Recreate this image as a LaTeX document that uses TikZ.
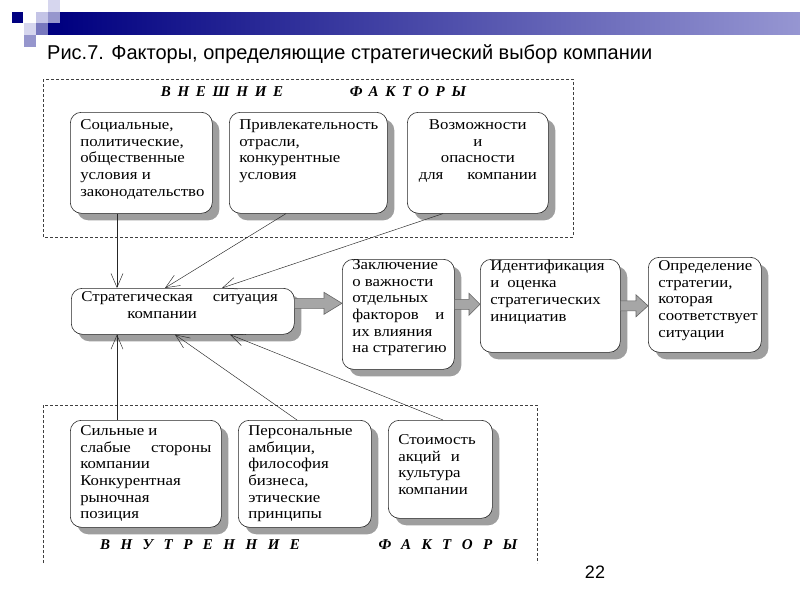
\documentclass[tikz,border=0pt]{standalone}
\usepackage{fontspec}
\setmainfont{Liberation Serif}
\newfontfamily\sansf{Liberation Sans}
\newfontfamily\bxf[FakeStretch=1.12]{Liberation Serif}
\newfontfamily\lblup[LetterSpace=45]{Liberation Serif}
\newfontfamily\lbllo[LetterSpace=70]{Liberation Serif}
\usetikzlibrary{shadows,arrows.meta,calc}
\definecolor{navy}{RGB}{0,0,128}
\definecolor{lav1}{RGB}{214,214,238}
\definecolor{lav2}{RGB}{196,196,230}
\definecolor{lav3}{RGB}{150,150,205}
\definecolor{lav4}{RGB}{120,120,190}
\definecolor{barend}{RGB}{150,150,210}
\newcommand\btx[4]{\parbox[c][#2pt][t]{#1pt}{\vspace*{#3pt}\begin{tabular}[t]{@{}l@{}}#4\end{tabular}}}
\newcommand\btc[4]{\parbox[c][#2pt][t]{#1pt}{\vspace*{#3pt}\centering\begin{tabular}[t]{@{}c@{}}#4\end{tabular}}}
\newcommand\blockarrow[3]{%
  \path[blk] let \p1=#1, \p2=#2 in
    (\x1,\y1+5pt) -- (\x2-#3,\y1+5pt) -- (\x2-#3,\y1+11pt) -- (\x2,\y1)
    -- (\x2-#3,\y1-11pt) -- (\x2-#3,\y1-5pt) -- (\x1,\y1-5pt) -- cycle;}
\begin{document}
\begin{tikzpicture}[x=1pt,y=-1pt,
  fbox/.style={draw=black!85, line width=0.6pt, rounded corners=11pt, fill=white,
    drop shadow={shadow xshift=7pt, shadow yshift=-7pt, fill=black!38, opacity=1},
    anchor=north west, inner xsep=10pt, inner ysep=0pt,
    font=\bxf\fontsize{15}{16.7}\selectfont},
  conn/.style={draw=black!85, line width=0.45pt, -{Straight Barb[length=14pt,width=12pt]}},
  blk/.style={fill=black!35, draw=black!60, line width=0.6pt},
  dashbox/.style={draw=black!75, line width=0.6pt, dash pattern=on 3pt off 2pt},
  lblu/.style={font=\lblup\bfseries\itshape\fontsize{15}{15}\selectfont, inner sep=0pt},
  lbll/.style={font=\lbllo\bfseries\itshape\fontsize{15}{15}\selectfont, inner sep=0pt}]
\useasboundingbox (0,0) rectangle (800,600);
\fill[white] (0,0) rectangle (800,600);
% decoration
\shade[left color=navy, right color=barend] (60,12) rectangle (800,34);
\fill[lav1] (48,0) rectangle (60,12);
\fill[navy] (12,12) rectangle (23,23);
\fill[lav2] (36,12) rectangle (48,23);
\fill[lav3] (48,12) rectangle (60,23);
\fill[lav1] (24,23) rectangle (36,35);
\fill[lav4] (36,23) rectangle (48,35);
\fill[navy] (48,23) rectangle (60,35);
\fill[lav3] (24,35) rectangle (36,47);
% title
\node[anchor=base west, inner sep=0pt, font=\sansf\fontsize{20}{20}\selectfont] (title) at (47,59)
  {Рис.7. Факторы, определяющие стратегический выбор компании};
% dashed frames
\draw[dashbox] (43,79) rectangle (573,237);
\draw[dashbox] (43,563) -- (43,405) -- (537,405) -- (537,563);
% labels
\node[lblu] (ext1) at (222,92) {ВНЕШНИЕ};
\node[lblu] (ext2) at (408,92) {ФАКТОРЫ};
\node[lbll] (int1) at (200,545) {ВНУТРЕННИЕ};
\node[lbll] (int2) at (448,545) {ФАКТОРЫ};
% external boxes
\node[fbox] (b1) at (70,112) {\btx{122}{101}{5.5}{Социальные,\\политические,\\общественные\\условия и\\законодательство}};
\node[fbox] (b2) at (229,112) {\btx{138}{101}{5.5}{Привлекательность\\отрасли,\\конкурентные\\условия}};
\node[fbox] (b3) at (407,112) {\btc{121}{101}{5.5}{Возможности\\и\\опасности\\для\hspace{24pt}компании}};
% strategic situation
\node[fbox] (s) at (71,288) {\btx{203}{46}{1.5}{Стратегическая\hspace{20pt}ситуация\\\hspace{46pt}компании}};
% chain
\node[fbox] (c1) at (342,259) {\btx{92}{110}{-1.5}{Заключение\\о важности\\отдельных\\\hbox to 92pt{факторов\hfill и}\\их влияния\\на стратегию}};
\node[fbox] (c2) at (480,259) {\btx{120}{93}{0}{Идентификация\\и\hspace{8pt}оценка\\стратегических\\инициатив}};
\node[fbox] (c3) at (648,257) {\btx{93}{95}{1.5}{Определение\\стратегии,\\которая\\соответствует\\ситуации}};
% internal boxes
\node[fbox] (b4) at (70,420) {\btx{131}{107}{3.5}{Сильные и\\\hbox to 131pt{слабые\hfill стороны}\\компании\\Конкурентная\\рыночная\\позиция}};
\node[fbox] (b5) at (238,420) {\btx{113}{107}{3.5}{Персональные\\амбиции,\\философия\\бизнеса,\\этические\\принципы}};
\node[fbox] (b6) at (388,420) {\btx{84}{98}{12.5}{Стоимость\\акций\hspace{10pt}и\\культура\\компании}};
% connectors
\draw[conn] ([xshift=47pt]b1.south west) -- ([xshift=46pt]s.north west);
\draw[conn] ([xshift=57pt]b2.south west) -- ([xshift=94pt]s.north west);
\draw[conn] ([xshift=36pt]b3.south west) -- ([xshift=151pt]s.north west);
\draw[conn] ([xshift=47pt]b4.north west) -- ([xshift=46pt]s.south west);
\draw[conn] ([xshift=59pt]b5.north west) -- ([xshift=104pt]s.south west);
\draw[conn] ([xshift=55pt]b6.north west) -- ([xshift=159pt]s.south west);
% block arrows
\blockarrow{([yshift=8pt]s.east)}{(c1.west)}{18pt}
\blockarrow{([yshift=10pt]c1.east)}{(c2.west)}{11pt}
\blockarrow{(c2.east)}{(c3.west)}{12pt}
% page number
\node[inner sep=0pt, font=\sansf\fontsize{18}{18}\selectfont] (pg) at (595,572) {22};
\end{tikzpicture}
\end{document}
